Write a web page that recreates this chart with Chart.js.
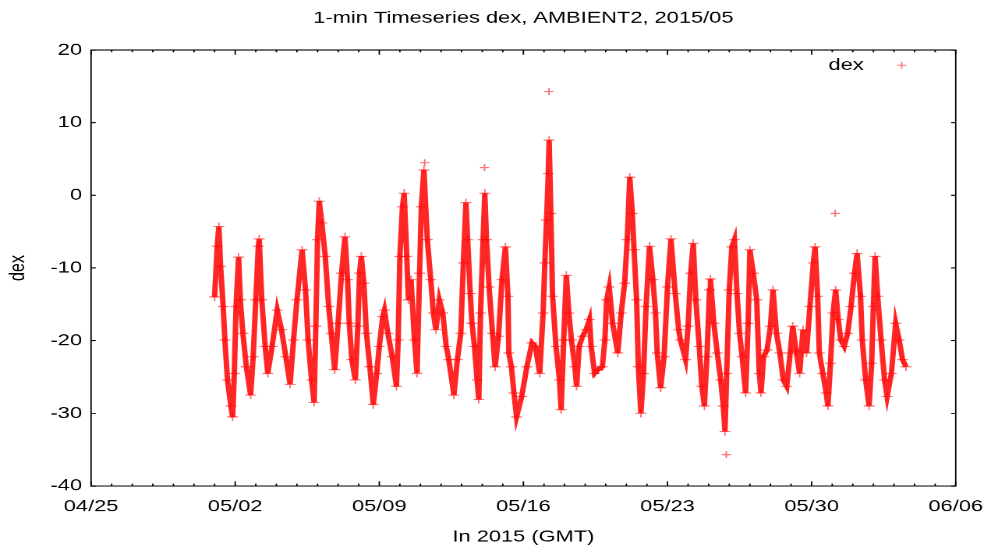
<!DOCTYPE html>
<html>
<head>
<meta charset="utf-8">
<script src="https://cdn.jsdelivr.net/npm/chart.js@4.4.0/dist/chart.umd.min.js"></script>
<style>
  html, body { margin: 0; padding: 0; background: #fff; overflow: hidden; width: 998px; height: 559px; }
  /* the original is a 640x480 gnuplot png stretched to 998x559 */
  #wrap { width: 640px; height: 480px; transform-origin: 0 0; transform: scale(1.559375, 1.1645833); }
</style>
</head>
<body>
<div id="wrap"><canvas id="dexChart"></canvas></div>
<script>
// hours since 2015/05/01 00:00 GMT and dex values
const hours = [
  0, 3, 5, 7, 10, 12, 15, 19, 21, 23, 25, 28, 30, 33, 37, 42, 45, 48, 51, 52,
  55, 59, 62, 67, 73, 78, 83, 88, 92, 96, 102, 106, 109, 113, 116, 118, 120, 122, 125, 129,
  133, 136, 140, 144, 148, 152, 155, 157, 160, 164, 167, 169, 171, 174, 177, 181, 185, 189, 192, 196,
  198, 202, 207, 212, 214, 216, 219, 221, 224, 226, 229, 233, 236, 239, 241, 244, 248, 252, 255, 258,
  262, 266, 270, 273, 279, 283, 287, 290, 293, 295, 298, 300, 303, 306, 308, 310, 313, 315, 317, 320,
  324, 327, 331, 335, 339, 342, 343, 346, 349, 352, 358, 364, 370, 374, 379, 383, 385, 387, 389, 390,
  392, 394, 398, 402, 404, 407, 410, 413, 416, 420, 422, 425, 429, 433, 437, 439, 443, 447, 452, 455,
  457, 460, 464, 470, 474, 478, 481, 484, 487, 489, 492, 494, 497, 500, 503, 507, 511, 514, 516, 520,
  524, 528, 532, 537, 541, 543, 549, 552, 555, 558, 561, 565, 568, 571, 574, 577, 578, 582, 586, 590,
  593, 595, 597, 600, 603, 606, 609, 612, 615, 619, 622, 624, 628, 632, 635, 637, 640, 644, 648, 651,
  655, 659, 663, 667, 671, 674, 678, 682, 686, 690, 694, 698, 700, 703, 705, 709, 713, 715, 718, 721,
  724, 727, 730, 734, 738, 742, 746, 749, 753, 755, 759, 763, 766, 768, 770, 773, 777, 781, 784, 789,
  794, 798, 802, 806
];
const dex = [
  -14, -7, -4.3, -9.8, -15.3, -19.9, -25.4, -29, -30.5, -24.5, -15.3, -8.5, -14.4, -19, -23.6, -27.5, -22.2, -14.4, -7, -6,
  -14.4, -20.8, -24.5, -20.8, -15.8, -18.5, -22.2, -26, -19.9, -14.4, -7.5, -13, -19.9, -25.4, -28.5, -18, -6.1, -0.8, -3.8, -8.4,
  -15.3, -19, -24, -17.6, -10.7, -5.7, -11.6, -17.6, -22.6, -25.4, -18, -10.7, -8.4, -12.1, -19, -23.6, -28.8, -24.5, -20.8, -16.7,
  -15.8, -19, -22.2, -26.3, -19.9, -8.4, -1.6, 0.3, -8.4, -14.4, -11.6, -19.9, -24.5, -10.7, -1.6, 3.5, -6.1, -11.6, -16.2, -18.5,
  -14.4, -16.2, -20.8, -22.6, -27.5, -22.6, -19, -9.3, -1, -6.1, -13.5, -17.6, -20.8, -25.4, -28.1, -16.2, -6.1, 0.3, -6.1, -12.6,
  -19, -23.6, -19.4, -11.6, -7.1, -13.9, -21.7, -23.6, -27.2, -30.5, -27.7, -23.6, -20.3, -20.8, -24.5, -16.2, -9.3, -3.4, 3, 7.6,
  -2.5, -13.9, -20.8, -25.4, -29.5, -19.9, -11, -16.2, -19.9, -23.6, -26.3, -20.8, -19.4, -18.5, -17.1, -20.8, -24.5, -24, -23.6, -19.9,
  -14.4, -12.6, -17.6, -21.7, -16.2, -12.1, -6.1, 2.5, -2.5, -7.5, -14.4, -23.6, -30, -24.5, -15.3, -7, -11.6, -16.2, -21.7, -26.5,
  -22.2, -12.6, -6, -13.5, -18.5, -19.9, -22.6, -18, -10.7, -6.6, -14.4, -20.8, -26.3, -29, -22.2, -13, -11.5, -17.6, -21.7, -25.4,
  -29, -32.5, -24.5, -13, -7.1, -6.1, -13.5, -19, -22.2, -27.2, -17.6, -7.5, -10.7, -14.4, -24.5, -27.2, -22.2, -21.3, -18, -13,
  -19, -21.7, -25.4, -26.3, -21.7, -18, -21.5, -24.5, -18.5, -21.7, -15.3, -9.3, -7.1, -13.9, -21.7, -24.5, -27.2, -29, -23.1, -16.2,
  -13, -17.1, -19.9, -20.8, -19, -15.3, -10.7, -8, -13.9, -19.9, -25.4, -29, -23.1, -15.3, -8.4, -13.9, -19.9, -25.4, -27.7, -24.5,
  -17.6, -19.9, -22.6, -23.6
];
// lone points away from the band
const strayHours = [245, 314.6, 389.8, 596.5, 723.5];
const strayDex = [4.5, 3.8, 14.3, -35.7, -2.5];

const startDay = 6; // 05/01 is 6 days after 04/25
const crossColor = 'rgba(255, 0, 0, 0.55)';

function toPoints(hs, vs) {
  return hs.map((h, i) => ({ x: startDay + h / 24, y: vs[i] }));
}

function dayLabel(v) {
  const d = new Date(Date.UTC(2015, 3, 25) + v * 86400000);
  const mm = String(d.getUTCMonth() + 1).padStart(2, '0');
  const dd = String(d.getUTCDate()).padStart(2, '0');
  return mm + '/' + dd;
}

// gnuplot style frame, inward ticks, title and key
const gnuplotFrame = {
  id: 'gnuplotFrame',
  beforeDatasetsDraw(chart) {
    const { ctx, chartArea: a, scales: { x, y } } = chart;
    ctx.save();
    ctx.strokeStyle = '#000';
    ctx.lineWidth = 0.9;
    ctx.strokeRect(a.left, a.top, a.right - a.left, a.bottom - a.top);
    ctx.beginPath();
    for (let d = 0; d <= 42; d++) {
      const px = x.getPixelForValue(d);
      const len = d % 7 === 0 ? 4 : 2;
      ctx.moveTo(px, a.bottom); ctx.lineTo(px, a.bottom - len);
      ctx.moveTo(px, a.top); ctx.lineTo(px, a.top + len);
    }
    for (let v = -40; v <= 20; v += 10) {
      const py = y.getPixelForValue(v);
      ctx.moveTo(a.left, py); ctx.lineTo(a.left + 3, py);
      ctx.moveTo(a.right, py); ctx.lineTo(a.right - 3, py);
    }
    ctx.stroke();

    ctx.fillStyle = '#000';
    ctx.font = '14px "Liberation Sans", Arial, sans-serif';
    ctx.textAlign = 'center';
    ctx.textBaseline = 'middle';
    ctx.fillText('1-min Timeseries dex, AMBIENT2, 2015/05', (a.left + a.right) / 2, 15.5);

    ctx.textAlign = 'right';
    ctx.fillText('dex', a.right - 59, a.top + 13);
    const cx = a.right - 34.6, cy = a.top + 13;
    ctx.strokeStyle = crossColor;
    ctx.beginPath();
    ctx.moveTo(cx - 3, cy); ctx.lineTo(cx + 3, cy);
    ctx.moveTo(cx, cy - 3); ctx.lineTo(cx, cy + 3);
    ctx.stroke();
    ctx.restore();
  }
};

Chart.defaults.font.family = '"Liberation Sans", Arial, sans-serif';
Chart.defaults.font.size = 14;
Chart.defaults.color = '#000';

const ctx = document.getElementById('dexChart').getContext('2d');
new Chart(ctx, {
  type: 'scatter',
  data: {
    datasets: [{
      label: 'dex',
      data: toPoints(hours, dex),
      showLine: true,
      tension: 0,
      borderColor: 'rgba(255, 0, 0, 0.85)',
      borderWidth: 3.5,
      pointStyle: 'cross',
      pointRadius: 3.5,
      pointBorderColor: crossColor,
      pointBorderWidth: 1,
      pointBackgroundColor: crossColor
    }, {
      label: 'dex stray',
      data: toPoints(strayHours, strayDex),
      showLine: false,
      pointStyle: 'cross',
      pointRadius: 3,
      pointBorderColor: crossColor,
      pointBorderWidth: 1
    }]
  },
  options: {
    responsive: true,
    maintainAspectRatio: false,
    devicePixelRatio: 2,
    animation: false,
    layout: { padding: { top: 42.9, right: 20, left: 0, bottom: 0 } },
    plugins: { legend: { display: false }, tooltip: { enabled: false } },
    scales: {
      x: {
        type: 'linear',
        min: 0,
        max: 42,
        grid: { display: false, drawTicks: false },
        border: { display: false },
        ticks: { stepSize: 7, padding: 9.6, maxRotation: 0, autoSkip: false, callback: v => dayLabel(v) },
        title: { display: true, text: 'In 2015 (GMT)', padding: { top: 0, bottom: 10.6 } },
        afterFit: s => { s.height = 62.7; }
      },
      y: {
        min: -40,
        max: 20,
        grid: { display: false, drawTicks: false },
        border: { display: false },
        ticks: { stepSize: 10, padding: 5.8 },
        title: { display: true, text: 'dex', padding: { top: 3, bottom: 0 } },
        afterFit: s => { s.width = 58.4; }
      }
    }
  },
  plugins: [gnuplotFrame]
});
</script>
</body>
</html>
